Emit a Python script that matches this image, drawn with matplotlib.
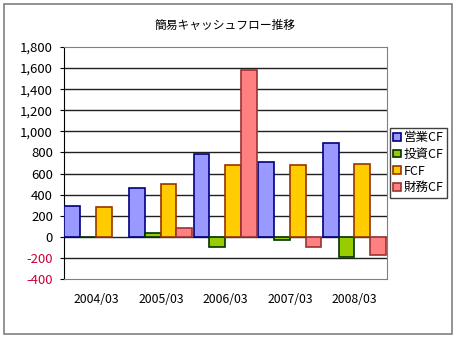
import numpy as np
import matplotlib
matplotlib.use("Agg")
import matplotlib.pyplot as plt
from matplotlib.patches import Patch, Rectangle

plt.rcParams['font.family'] = ['Noto Sans CJK JP', 'DejaVu Sans']

## Data
years = ["2004/03", "2005/03", "2006/03", "2007/03", "2008/03"]
eigyo_cf = [296, 467, 789, 707, 893]      # 営業CF
toshi_cf = [-5, 35, -101, -28, -196]      # 投資CF
fcf = [287, 499, 682, 685, 694]           # FCF
zaimu_cf = [0, 85, 1581, -101, -173]      # 財務CF

series_names = ["営業CF", "投資CF", "FCF", "財務CF"]
fills = ["#9999FF", "#99CC00", "#FFCC00", "#FF8080"]
edges = ["#000080", "#003300", "#993300", "#993333"]

W, H = 457, 340
fig = plt.figure(figsize=(W / 100, H / 100), dpi=100)

# outer chart border
fig.patches.append(Rectangle((4 / W, 6 / H), 448 / W, 330 / H, transform=fig.transFigure,
                             fill=False, edgecolor="#808080", linewidth=1.2))

ax = fig.add_axes([64 / W, (H - 279) / H, 323 / W, 232 / H])

x = np.arange(len(years))
bw = 0.245
for i, vals in enumerate([eigyo_cf, toshi_cf, fcf, zaimu_cf]):
    vals = np.array(vals, dtype=float)
    keep = vals != 0   # a zero bar leaves no mark in the reference
    ax.bar((x - 0.5 + bw * (i + 0.5) + 0.005)[keep], vals[keep], bw, color=fills[i],
           edgecolor=edges[i], linewidth=1.2, zorder=3)

ax.set_xlim(-0.5, len(years) - 0.5)
ax.set_ylim(-400, 1800)
yt = np.arange(-400, 1801, 200)
ax.set_yticks(yt)
ax.set_yticklabels([f"{v:,}" for v in yt], fontsize=9.5)
for lab, v in zip(ax.get_yticklabels(), yt):
    if v < 0:
        lab.set_color("#CC0033")
for v in yt[1:-1]:
    ax.axhline(v, color="#202020", linewidth=1, zorder=1)

ax.set_xticks(x)
ax.set_xticklabels(years, fontsize=8.8)
ax.tick_params(axis="x", length=0, pad=10)
ax.tick_params(axis="y", length=3, direction="out", pad=5)

for s in ["top", "right", "bottom"]:
    ax.spines[s].set_color("#808080")
ax.spines["left"].set_color("#000000")

ax.set_title("簡易キャッシュフロー推移", fontsize=8.5, pad=13)

handles = [Patch(facecolor=f, edgecolor=e, linewidth=1.2) for f, e in zip(fills, edges)]
leg = fig.legend(handles, series_names, loc="upper left",
                 bbox_to_anchor=(390 / W, 1 - 128 / H), fontsize=9,
                 handlelength=0.6, handleheight=0.6, handletextpad=0.25,
                 labelspacing=0.3, borderpad=0.25, borderaxespad=0,
                 fancybox=False, framealpha=1)
leg.get_frame().set_edgecolor("#404040")
leg.get_frame().set_linewidth(1)

fig.savefig("out.png", dpi=100)
